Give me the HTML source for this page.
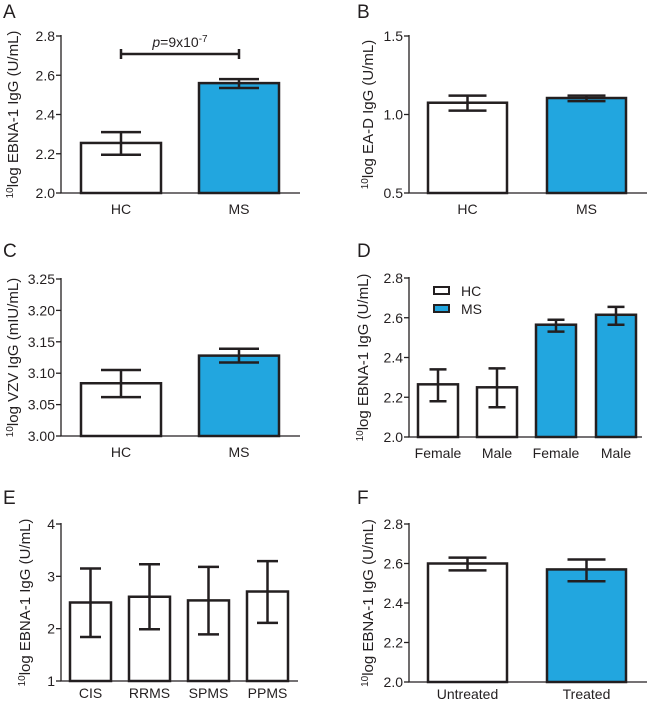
<!DOCTYPE html>
<html><head><meta charset="utf-8"><style>
body{margin:0;background:#fff}
svg{display:block;font-family:"Liberation Sans",Arial,sans-serif}
</style></head><body>
<svg id="fig" width="648" height="701" viewBox="0 0 648 701"></svg>
<script>
const catsA=["HC","MS"], valsA=[2.255,2.56], loA=[2.195,2.535], hiA=[2.31,2.58], ticksA=[2.0,2.2,2.4,2.6,2.8];
const catsB=["HC","MS"], valsB=[1.075,1.105], loB=[1.025,1.085], hiB=[1.12,1.12], ticksB=[0.5,1.0,1.5];
const catsC=["HC","MS"], valsC=[3.084,3.128], loC=[3.062,3.117], hiC=[3.105,3.139], ticksC=[3.00,3.05,3.10,3.15,3.20,3.25];
const catsD=["Female","Male","Female","Male"], valsD=[2.265,2.25,2.565,2.615], loD=[2.18,2.15,2.53,2.565], hiD=[2.34,2.345,2.59,2.655], ticksD=[2.0,2.2,2.4,2.6,2.8];
const catsE=["CIS","RRMS","SPMS","PPMS"], valsE=[2.5,2.61,2.54,2.71], loE=[1.84,1.99,1.89,2.11], hiE=[3.15,3.23,3.18,3.29], ticksE=[1,2,3,4];
const catsF=["Untreated","Treated"], valsF=[2.6,2.57], loF=[2.565,2.51], hiF=[2.63,2.62], ticksF=[2.0,2.2,2.4,2.6,2.8];

const NS="http://www.w3.org/2000/svg", svg=document.getElementById('fig');
const BLUE="#22a6df", INK="#231f20";
function mk(tag,attrs,parent,text){const e=document.createElementNS(NS,tag);for(const k in attrs)e.setAttribute(k,attrs[k]);if(text!==undefined)e.textContent=text;(parent||svg).appendChild(e);return e;}

function panel(o){
  const g=mk('g',{});
  
  
  const y=v=>o.y1-(v-o.min)/(o.max-o.min)*(o.y1-o.y0);
  const lt=mk('text',{x:o.lx,y:o.ly,'font-size':19,fill:INK},g,o.letter);
  
  
  o.cats.forEach((c,i)=>{
    const bx=o.bars[i][0], bw=o.bars[i][1]-o.bars[i][0], v=o.vals[i];
    const r=mk('rect',{x:bx,y:y(v),width:bw,height:o.y1-y(v),fill:o.blue[i]?BLUE:'#fff',stroke:INK,'stroke-width':2.5},g);
    
    
    const cx=bx+bw/2, cw=o.cap/2;
    const e=mk('path',{d:`M${cx} ${y(o.lo[i])}V${y(o.hi[i])}M${cx-cw} ${y(o.lo[i])}H${cx+cw}M${cx-cw} ${y(o.hi[i])}H${cx+cw}`,stroke:INK,'stroke-width':2.5,fill:'none'},g);
    
    
    const t=mk('text',{x:cx,y:o.y1+(o.lo2||21),'font-size':14,'text-anchor':'middle',fill:INK},g,c);
    
    
  });
  const ax=mk('path',{d:`M${o.ax} ${o.y0-1}V${o.y1}H${o.xend}`,stroke:INK,'stroke-width':1.3,fill:'none'},g);
  
  
  o.ticks.forEach(tv=>{
    mk('line',{x1:o.ax-5,x2:o.ax,y1:y(tv),y2:y(tv),stroke:INK,'stroke-width':1.3},g);
    const t=mk('text',{x:o.ax-6,y:y(tv)+5,'font-size':14,'text-anchor':'end',fill:INK},g,tv.toFixed(o.dec));
    
    
  });
  const yc=(o.y0+o.y1)/2;
  const tt=mk('text',{x:0,y:0,'font-size':15,'text-anchor':'middle',fill:INK,transform:`translate(${o.tx},${yc}) rotate(-90)`},g);
  
  
  mk('tspan',{'font-size':10,dy:-5},tt,'10');
  mk('tspan',{dy:5},tt,o.title);
  return {g,y};
}

panel({letter:'A',lx:3,ly:18,cats:catsA,vals:valsA,lo:loA,hi:hiA,ticks:ticksA,min:2.0,max:2.8,dec:1,y0:36,y1:193,ax:61,xend:300,bars:[[81,161],[199,279]],blue:[0,1],cap:40,tx:18,title:'log EBNA-1 IgG (U/mL)'});
panel({letter:'B',lx:357,ly:18,cats:catsB,vals:valsB,lo:loB,hi:hiB,ticks:ticksB,min:0.5,max:1.5,dec:1,y0:36,y1:193,ax:409,xend:647,bars:[[428,507],[547,626]],blue:[0,1],cap:38,tx:373,title:'log EA-D IgG (U/mL)'});
panel({letter:'C',lx:3,ly:257,cats:catsC,vals:valsC,lo:loC,hi:hiC,ticks:ticksC,min:3.0,max:3.25,dec:2,y0:279,y1:436,ax:61,xend:300,bars:[[81,161],[199,279]],blue:[0,1],cap:40,tx:18,title:'log VZV IgG (mIU/mL)'});
panel({letter:'D',lx:357,ly:257,cats:catsD,vals:valsD,lo:loD,hi:hiD,ticks:ticksD,min:2.0,max:2.8,dec:1,y0:278,y1:437,ax:409,xend:642,bars:[[418,458],[477,517],[536,576],[596,636]],blue:[0,0,1,1],cap:17,tx:368,title:'log EBNA-1 IgG (U/mL)'});
panel({letter:'E',lx:3,ly:504,cats:catsE,vals:valsE,lo:loE,hi:hiE,ticks:ticksE,min:1,max:4,dec:0,y0:524,y1:681,ax:61,xend:298,bars:[[70,111],[129,170],[188,229],[247,288]],blue:[0,0,0,0],cap:21,tx:30,lo2:17,title:'log EBNA-1 IgG (U/mL)'});
panel({letter:'F',lx:357,ly:504,cats:catsF,vals:valsF,lo:loF,hi:hiF,ticks:ticksF,min:2.0,max:2.8,dec:1,y0:524,y1:682,ax:409,xend:647,bars:[[428,507],[547,626]],blue:[0,1],cap:38,tx:373,lo2:17,title:'log EBNA-1 IgG (U/mL)'});

const br=mk('path',{d:'M121 49V59M121 54H239M239 49V59',stroke:INK,'stroke-width':2.5,fill:'none'});


const pt=mk('text',{x:180,y:47,'font-size':14,'text-anchor':'middle',fill:INK});


mk('tspan',{'font-style':'italic'},pt,'p');
mk('tspan',{},pt,'=9x10');
mk('tspan',{'font-size':10,dy:-5},pt,'-7');

const lg=mk('g',{});


[['HC','#fff',287],['MS',BLUE,305]].forEach(([n,f,yy])=>{
  const r=mk('rect',{x:434,y:yy,width:15,height:7,fill:f,stroke:INK,'stroke-width':2},lg);
  
  
  const t=mk('text',{x:461,y:yy+9,'font-size':14,fill:INK},lg,n);
  
  
});
</script>
</body></html>
